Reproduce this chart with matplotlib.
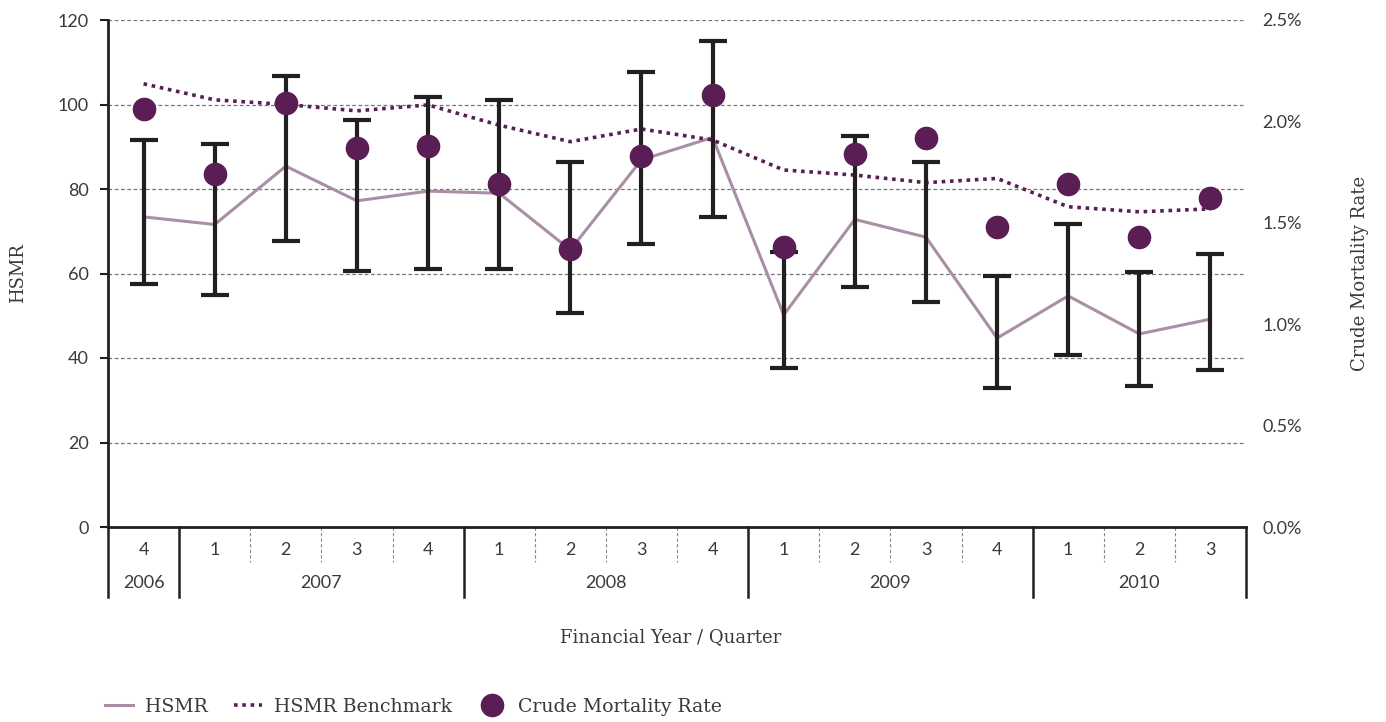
import matplotlib
matplotlib.use("Agg")
import matplotlib.pyplot as plt
from matplotlib.lines import Line2D
from matplotlib.ticker import PercentFormatter
import matplotlib.transforms as mtransforms

# Quarter labels and financial years
quarters = ["4", "1", "2", "3", "4", "1", "2", "3", "4", "1", "2", "3", "4", "1", "2", "3"]
years = ["2006", "2007", "2008", "2009", "2010"]
year_sizes = [1, 4, 4, 4, 3]

# HSMR with confidence limits
hsmr = [73.4, 71.6, 85.4, 77.2, 79.5, 79.0, 65.6, 86.9, 92.2, 50.2, 72.8, 68.6, 44.7, 54.7, 45.7, 49.2]
hsmr_low = [57.4, 54.8, 67.8, 60.6, 61.0, 61.0, 50.6, 67.1, 73.3, 37.6, 56.7, 53.2, 32.8, 40.6, 33.4, 37.2]
hsmr_high = [91.7, 90.6, 106.7, 96.3, 101.7, 101.0, 86.3, 107.8, 115.0, 65.2, 92.5, 86.3, 59.3, 71.6, 60.4, 64.7]
benchmark = [104.9, 101.1, 100.0, 98.5, 99.9, 95.1, 91.2, 94.2, 91.6, 84.5, 83.3, 81.5, 82.5, 75.8, 74.6, 75.3]

# crude mortality rate (%)
crude_rate = [2.06, 1.74, 2.09, 1.87, 1.88, 1.69, 1.37, 1.83, 2.13, 1.38, 1.84, 1.92, 1.48, 1.69, 1.43, 1.62]

LINE_COL = "#a98fa6"
PURPLE = "#5a1e55"
BAR_COL = "#231f20"
TXT = "#3a3a3a"
SLAB = ["DejaVu Serif"]
SANS = ["Lato", "DejaVu Sans"]

fig = plt.figure(figsize=(13.86, 7.22), dpi=100)
ax = fig.add_axes([108 / 1386, 1 - 527 / 722, 1138 / 1386, 507 / 722])
x = list(range(len(quarters)))

yerr = [[h - l for h, l in zip(hsmr, hsmr_low)], [u - h for h, u in zip(hsmr, hsmr_high)]]
ax.plot(x, hsmr, color=LINE_COL, lw=2.2, zorder=2)
ax.errorbar(x, hsmr, yerr=yerr, fmt="none", ecolor=BAR_COL, elinewidth=3,
            capsize=10, capthick=3, zorder=3)
ax.plot(x, benchmark, color=PURPLE, lw=2.6, linestyle=(0, (1, 1.3)), zorder=2)

ax.set_xlim(-0.5, len(quarters) - 0.5)
ax.set_ylim(0, 120)
ax.set_yticks(range(0, 121, 20))
ax.set_xticks([])
for y in range(20, 121, 20):
    ax.axhline(y, color="#777777", lw=0.9, linestyle=(0, (3, 2)), zorder=1)

for side in ["top", "right"]:
    ax.spines[side].set_visible(False)
ax.spines["left"].set_linewidth(2)
ax.spines["bottom"].set_linewidth(2)
ax.spines["left"].set_color(BAR_COL)
ax.spines["bottom"].set_color(BAR_COL)
ax.tick_params(axis="y", direction="out", length=6, width=1.5, color=BAR_COL,
               labelsize=13, labelcolor=TXT, pad=8)
for lab in ax.get_yticklabels():
    lab.set_family(SANS)
ax.set_ylabel("HSMR", family=SLAB, fontsize=13, color=TXT, labelpad=22)

# right axis for crude mortality rate
ax2 = ax.twinx()
ax2.plot(x, crude_rate, linestyle="none", marker="o", ms=16, color=PURPLE, zorder=5)
ax2.set_ylim(0, 2.5)
ax2.set_yticks([0, 0.5, 1.0, 1.5, 2.0, 2.5])
ax2.yaxis.set_major_formatter(PercentFormatter(decimals=1))
for side in ["top", "right", "left", "bottom"]:
    ax2.spines[side].set_visible(False)
ax2.tick_params(axis="y", length=0, labelsize=13, labelcolor=TXT, pad=12)
for lab in ax2.get_yticklabels():
    lab.set_family(SANS)
ax2.set_ylabel("Crude Mortality Rate", family=SLAB, fontsize=13, color=TXT, labelpad=35)

# category table under the x axis
trans = mtransforms.blended_transform_factory(ax.transData, ax.transAxes)
row1 = -0.069
row_end = -0.138
for i, q in enumerate(quarters):
    ax.text(i, -0.045, q, transform=trans, ha="center", va="center",
            family=SANS, fontsize=13, color=TXT)
edge = -0.5
bounds = [edge]
for n in year_sizes:
    edge += n
    bounds.append(edge)
for b in bounds:
    ax.add_line(Line2D([b, b], [0, row_end], transform=trans, color=BAR_COL,
                       lw=1.8, clip_on=False))
for i in range(len(quarters) - 1):
    b = i + 0.5
    if b not in bounds:
        ax.add_line(Line2D([b, b], [0, row1], transform=trans, color="#888888",
                           lw=0.8, linestyle=(0, (3, 2)), clip_on=False))
for yr, lo, hi in zip(years, bounds[:-1], bounds[1:]):
    ax.text((lo + hi) / 2, -0.110, yr, transform=trans, ha="center", va="center",
            family=SANS, fontsize=13, color=TXT)

fig.text(671 / 1386, 1 - 637 / 722, "Financial Year / Quarter", ha="center", va="center",
         family=SLAB, fontsize=13, color=TXT)

handles = [
    Line2D([], [], color=LINE_COL, lw=2.2),
    Line2D([], [], color=PURPLE, lw=2.6, linestyle=(0, (1, 1.3))),
    Line2D([], [], color=PURPLE, linestyle="none", marker="o", ms=16),
]
leg = fig.legend(handles, ["HSMR", "HSMR Benchmark", "Crude Mortality Rate"],
                 loc="center left", bbox_to_anchor=(105 / 1386, 1 - 707 / 722), ncol=3,
                 frameon=False, handlelength=1.5, handletextpad=0.6, columnspacing=1.4,
                 borderpad=0, borderaxespad=0,
                 prop={"family": SLAB, "size": 13.6})
for t in leg.get_texts():
    t.set_color(TXT)

fig.savefig("out.png", dpi=100)
